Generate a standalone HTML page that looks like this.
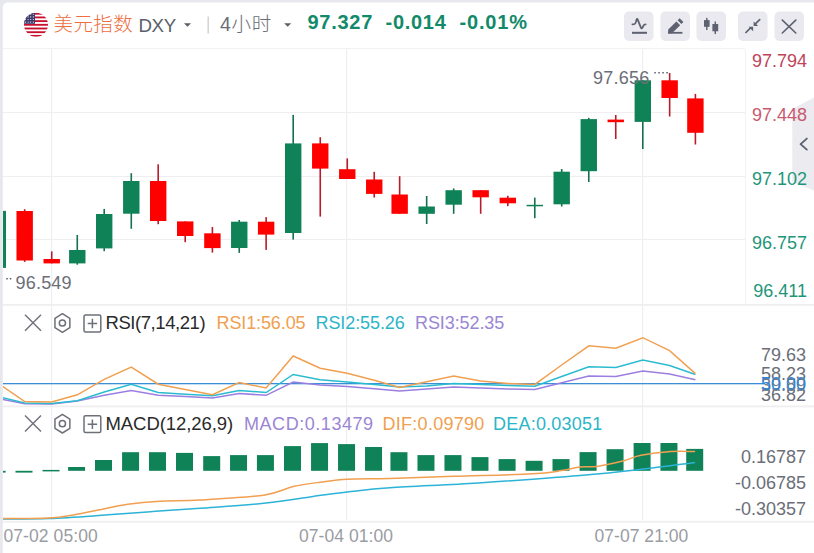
<!DOCTYPE html>
<html><head><meta charset="utf-8"><title>DXY</title>
<style>
html,body{margin:0;padding:0;width:814px;height:553px;overflow:hidden;background:#e7e7ee;}
svg{display:block}
text{font-family:'Liberation Sans','Noto Sans CJK SC',sans-serif;}
</style></head><body>
<svg width="814" height="553" viewBox="0 0 814 553">
<rect x="0" y="0" width="814" height="553" fill="#e7e7ee"/>
<rect x="2.8" y="2.6" width="830" height="570" rx="5" ry="5" fill="#ffffff"/>
<rect x="3" y="48" width="742" height="1" fill="#f1f2f5"/>
<rect x="3" y="112" width="742" height="1" fill="#efeff1"/>
<rect x="3" y="176" width="742" height="1" fill="#efeff1"/>
<rect x="3" y="239" width="742" height="1" fill="#efeff1"/>
<rect x="51" y="49" width="1.2" height="471" fill="#efeff1"/>
<rect x="346" y="49" width="1.2" height="471" fill="#efeff1"/>
<rect x="642" y="49" width="1.2" height="471" fill="#efeff1"/>
<rect x="3" y="304" width="811" height="1.8" fill="#efeff1"/>
<rect x="3" y="405.5" width="811" height="1.8" fill="#efeff1"/>
<rect x="3" y="520.8" width="811" height="1.8" fill="#efeff1"/>
<rect x="745" y="49" width="1" height="255" fill="#f1f2f5"/>
<clipPath id="cc"><rect x="3" y="49" width="742" height="255"/></clipPath>
<g clip-path="url(#cc)">
<rect x="-3.00" y="205.0" width="1.6" height="73.7" fill="#15704f"/>
<rect x="-10.40" y="210.9" width="16.4" height="57.0" fill="#108258"/>
<rect x="23.88" y="209.2" width="1.6" height="52.7" fill="#b81c2a"/>
<rect x="16.48" y="211.0" width="16.4" height="49.5" fill="#ff0000"/>
<rect x="50.93" y="251.4" width="1.6" height="12.0" fill="#b81c2a"/>
<rect x="43.53" y="259.0" width="16.4" height="4.4" fill="#ff0000"/>
<rect x="76.48" y="235.0" width="1.6" height="29.7" fill="#15704f"/>
<rect x="69.08" y="250.0" width="16.4" height="13.4" fill="#108258"/>
<rect x="103.40" y="208.9" width="1.6" height="42.3" fill="#15704f"/>
<rect x="96.00" y="214.0" width="16.4" height="34.4" fill="#108258"/>
<rect x="130.48" y="173.2" width="1.6" height="55.6" fill="#15704f"/>
<rect x="123.08" y="181.0" width="16.4" height="32.7" fill="#108258"/>
<rect x="157.39" y="164.3" width="1.6" height="59.9" fill="#b81c2a"/>
<rect x="149.99" y="181.0" width="16.4" height="40.0" fill="#ff0000"/>
<rect x="184.40" y="221.4" width="1.6" height="20.8" fill="#b81c2a"/>
<rect x="177.00" y="221.4" width="16.4" height="14.6" fill="#ff0000"/>
<rect x="211.60" y="227.0" width="1.6" height="25.6" fill="#b81c2a"/>
<rect x="204.20" y="233.3" width="16.4" height="14.8" fill="#ff0000"/>
<rect x="238.45" y="220.0" width="1.6" height="32.9" fill="#15704f"/>
<rect x="231.05" y="221.7" width="16.4" height="26.3" fill="#108258"/>
<rect x="265.32" y="217.1" width="1.6" height="32.8" fill="#b81c2a"/>
<rect x="257.92" y="221.7" width="16.4" height="12.9" fill="#ff0000"/>
<rect x="292.40" y="114.9" width="1.6" height="124.7" fill="#15704f"/>
<rect x="285.00" y="143.4" width="16.4" height="89.6" fill="#108258"/>
<rect x="319.45" y="137.2" width="1.6" height="79.4" fill="#b81c2a"/>
<rect x="312.05" y="143.4" width="16.4" height="25.2" fill="#ff0000"/>
<rect x="346.45" y="158.4" width="1.6" height="20.6" fill="#b81c2a"/>
<rect x="339.05" y="169.2" width="16.4" height="9.8" fill="#ff0000"/>
<rect x="373.43" y="171.8" width="1.6" height="25.7" fill="#b81c2a"/>
<rect x="366.03" y="179.5" width="16.4" height="14.4" fill="#ff0000"/>
<rect x="398.85" y="176.2" width="1.6" height="37.6" fill="#b81c2a"/>
<rect x="391.45" y="194.5" width="16.4" height="19.3" fill="#ff0000"/>
<rect x="425.87" y="196.0" width="1.6" height="28.0" fill="#15704f"/>
<rect x="418.47" y="206.5" width="16.4" height="7.3" fill="#108258"/>
<rect x="452.87" y="188.4" width="1.6" height="25.4" fill="#15704f"/>
<rect x="445.47" y="190.2" width="16.4" height="14.5" fill="#108258"/>
<rect x="479.87" y="190.2" width="1.6" height="23.6" fill="#b81c2a"/>
<rect x="472.47" y="190.2" width="16.4" height="7.1" fill="#ff0000"/>
<rect x="507.00" y="195.8" width="1.6" height="10.3" fill="#b81c2a"/>
<rect x="499.60" y="197.7" width="16.4" height="5.6" fill="#ff0000"/>
<rect x="533.98" y="197.6" width="1.6" height="20.6" fill="#15704f"/>
<rect x="526.58" y="204.8" width="16.4" height="1.5" fill="#108258"/>
<rect x="560.90" y="169.0" width="1.6" height="37.5" fill="#15704f"/>
<rect x="553.50" y="171.7" width="16.4" height="32.6" fill="#108258"/>
<rect x="587.97" y="117.8" width="1.6" height="64.2" fill="#15704f"/>
<rect x="580.57" y="119.1" width="16.4" height="52.1" fill="#108258"/>
<rect x="614.95" y="115.0" width="1.6" height="24.0" fill="#b81c2a"/>
<rect x="607.55" y="119.6" width="16.4" height="2.6" fill="#ff0000"/>
<rect x="642.00" y="80.0" width="1.6" height="69.0" fill="#15704f"/>
<rect x="634.60" y="80.3" width="16.4" height="41.6" fill="#108258"/>
<rect x="668.85" y="73.0" width="1.6" height="43.5" fill="#b81c2a"/>
<rect x="661.45" y="80.3" width="16.4" height="17.7" fill="#ff0000"/>
<rect x="694.60" y="93.9" width="1.6" height="50.6" fill="#b81c2a"/>
<rect x="687.20" y="98.4" width="16.4" height="34.4" fill="#ff0000"/>
</g>
<text id="hi" x="593.00" y="83.9" font-size="18" fill="#6b6e78" font-weight="normal" textLength="56.26" lengthAdjust="spacing" >97.656</text>
<rect x="654.3" y="72" width="1.5" height="1.5" fill="#5a5e68"/>
<rect x="658.3" y="72" width="1.5" height="1.5" fill="#5a5e68"/>
<rect x="662.3" y="72" width="1.5" height="1.5" fill="#5a5e68"/>
<rect x="666.3" y="72" width="1.5" height="1.5" fill="#5a5e68"/>
<text id="lo" x="15.50" y="288.7" font-size="18" fill="#6b6e78" font-weight="normal" textLength="56.06" lengthAdjust="spacing" >96.549</text>
<rect x="6.3" y="278" width="1.5" height="1.5" fill="#5a5e68"/>
<rect x="9.8" y="278" width="1.5" height="1.5" fill="#5a5e68"/>
<path d="M814,97.5 L792.3,109 L792.3,182 L814,190.5 Z" fill="#ebebf0"/>
<path d="M806.8,138.6 L800.6,144.1 L806.8,149.6" fill="none" stroke="#5d6170" stroke-width="1.9" stroke-linecap="round" stroke-linejoin="round"/>
<text x="807" y="67" font-size="18" fill="#c0435a" text-anchor="end" font-weight="normal" >97.794</text>
<text x="807" y="120.5" font-size="18" fill="#c95a6e" text-anchor="end" font-weight="normal" >97.448</text>
<text x="807" y="184.5" font-size="18" fill="#1f967a" text-anchor="end" font-weight="normal" >97.102</text>
<text x="807" y="249" font-size="18" fill="#1f967a" text-anchor="end" font-weight="normal" >96.757</text>
<text x="807" y="296.7" font-size="18" fill="#1f967a" text-anchor="end" font-weight="normal" >96.411</text>
<clipPath id="cr"><rect x="3" y="305" width="742" height="101"/></clipPath>
<g clip-path="url(#cr)">
<rect x="3" y="383" width="811" height="1.3" fill="#3a8fd8"/>
<polyline points="-2.2,398.5 24.7,403.7 51.7,404.1 77.3,401.0 104.2,395.3 131.3,390.4 158.2,395.3 185.2,396.4 212.4,397.9 239.2,393.5 266.1,395.3 293.2,382.0 320.2,384.9 347.2,386.5 374.2,388.7 399.6,390.9 426.7,389.0 453.7,387.1 480.7,388.0 507.8,389.0 534.8,389.5 561.7,382.7 588.8,376.0 615.8,376.5 642.8,371.1 669.6,374.1 695.4,379.7" fill="none" stroke="#9b7fe0" stroke-width="1.5"/>
<polyline points="-2.2,396.5 24.7,403.0 51.7,403.5 77.3,400.8 104.2,392.0 131.3,384.2 158.2,392.4 185.2,394.2 212.4,395.7 239.2,390.4 266.1,392.6 293.2,374.5 320.2,379.8 347.2,381.9 374.2,384.4 399.6,386.9 426.7,386.0 453.7,383.6 480.7,384.5 507.8,385.6 534.8,386.3 561.7,376.5 588.8,366.7 615.8,367.4 642.8,360.0 669.6,365.5 695.4,374.5" fill="none" stroke="#2bbbd0" stroke-width="1.5"/>
<polyline points="-2.2,383.0 24.7,401.5 51.7,401.9 77.3,394.8 104.2,379.4 131.3,367.0 158.2,384.2 185.2,389.5 212.4,394.8 239.2,382.5 266.1,388.0 293.2,356.0 320.2,368.3 347.2,373.2 374.2,380.3 399.6,387.5 426.7,381.8 453.7,376.0 480.7,381.1 507.8,383.5 534.8,384.4 561.7,365.0 588.8,345.8 615.8,348.3 642.8,337.7 669.6,350.7 695.4,373.6" fill="none" stroke="#f0a050" stroke-width="1.5"/>
</g>
<rect x="745" y="383" width="20" height="1.3" fill="#3a8fd8"/>
<text x="806" y="361" font-size="18" fill="#6b6e78" text-anchor="end" font-weight="normal" >79.63</text>
<text x="806" y="380" font-size="18" fill="#6b6e78" text-anchor="end" font-weight="normal" >58.23</text>
<text x="806" y="400.5" font-size="18" fill="#6b6e78" text-anchor="end" font-weight="normal" >36.82</text>
<text x="806" y="391" font-size="18" fill="#7a7d86" text-anchor="end" font-weight="normal" >39.89</text>
<text x="806" y="390" font-size="18" fill="#2f86d8" text-anchor="end" font-weight="normal" >50.00</text>
<clipPath id="cm"><rect x="3" y="407" width="742" height="113"/></clipPath>
<g clip-path="url(#cm)">
<rect x="-11.40" y="470.8" width="17.0" height="1.8" fill="#108258"/>
<rect x="15.48" y="470.8" width="17.0" height="1.8" fill="#108258"/>
<rect x="42.53" y="469.9" width="17.0" height="1.5" fill="#108258"/>
<rect x="68.08" y="467.0" width="17.0" height="3.8" fill="#108258"/>
<rect x="95.00" y="460.0" width="17.0" height="10.8" fill="#108258"/>
<rect x="122.08" y="452.2" width="17.0" height="18.6" fill="#108258"/>
<rect x="148.99" y="452.2" width="17.0" height="18.6" fill="#108258"/>
<rect x="176.00" y="452.9" width="17.0" height="17.9" fill="#108258"/>
<rect x="203.20" y="456.1" width="17.0" height="14.7" fill="#108258"/>
<rect x="230.05" y="455.1" width="17.0" height="15.7" fill="#108258"/>
<rect x="256.92" y="455.1" width="17.0" height="15.7" fill="#108258"/>
<rect x="284.00" y="446.1" width="17.0" height="24.7" fill="#108258"/>
<rect x="311.05" y="443.1" width="17.0" height="27.7" fill="#108258"/>
<rect x="338.05" y="444.1" width="17.0" height="26.7" fill="#108258"/>
<rect x="365.03" y="447.0" width="17.0" height="23.8" fill="#108258"/>
<rect x="390.45" y="452.2" width="17.0" height="18.6" fill="#108258"/>
<rect x="417.47" y="455.1" width="17.0" height="15.7" fill="#108258"/>
<rect x="444.47" y="455.1" width="17.0" height="15.7" fill="#108258"/>
<rect x="471.47" y="457.1" width="17.0" height="13.7" fill="#108258"/>
<rect x="498.60" y="459.1" width="17.0" height="11.7" fill="#108258"/>
<rect x="525.58" y="460.8" width="17.0" height="10.0" fill="#108258"/>
<rect x="552.50" y="459.1" width="17.0" height="11.7" fill="#108258"/>
<rect x="579.57" y="452.1" width="17.0" height="18.7" fill="#108258"/>
<rect x="606.55" y="449.2" width="17.0" height="21.6" fill="#108258"/>
<rect x="633.60" y="443.0" width="17.0" height="27.8" fill="#108258"/>
<rect x="660.45" y="443.0" width="17.0" height="27.8" fill="#108258"/>
<rect x="686.20" y="448.9" width="17.0" height="21.9" fill="#108258"/>
<path d="M3.0,519.0 C10.7,518.9 33.1,519.1 49.0,518.5 C64.9,517.9 81.9,516.7 98.3,515.6 C114.7,514.5 130.5,513.1 147.4,511.9 C164.3,510.7 180.6,509.6 200.0,508.2 C219.4,506.8 244.9,505.3 263.7,503.3 C282.5,501.3 299.0,498.3 312.9,496.4 C326.8,494.5 334.3,493.4 347.2,492.0 C360.1,490.6 368.1,489.3 390.0,487.8 C411.9,486.3 446.6,484.9 478.3,482.9 C510.0,480.8 552.9,477.8 580.0,475.5 C607.1,473.2 621.8,471.5 641.0,469.3 C660.2,467.1 686.1,463.5 695.1,462.4" fill="none" stroke="#2bb3d8" stroke-width="1.5"/>
<path d="M3.0,518.5 C10.7,518.4 37.2,518.6 49.0,518.0 C60.8,517.4 65.5,516.2 73.7,514.9 C81.9,513.6 89.3,511.8 98.3,510.0 C107.3,508.2 117.6,505.8 127.8,504.3 C138.0,502.9 147.7,502.0 159.7,501.3 C171.7,500.6 182.7,501.1 200.0,500.1 C217.3,499.1 248.2,497.4 263.7,495.2 C279.2,492.9 283.8,488.8 293.2,486.6 C302.6,484.4 311.2,483.4 320.2,482.2 C329.2,481.0 335.6,479.8 347.2,479.2 C358.8,478.6 372.2,479.0 390.0,478.5 C407.8,478.0 430.0,477.1 453.7,476.3 C477.4,475.5 514.3,474.8 532.3,473.8 C550.3,472.9 553.8,471.7 561.8,470.6 C569.8,469.5 574.1,467.7 580.0,467.0 C585.9,466.3 589.6,467.4 596.9,466.4 C604.2,465.3 616.5,462.5 623.9,460.7 C631.2,458.9 633.2,456.8 641.0,455.3 C648.8,453.8 661.6,452.2 670.6,451.6 C679.6,451.0 691.0,451.6 695.1,451.6" fill="none" stroke="#f0a050" stroke-width="1.5"/>
</g>
<text x="806" y="463.3" font-size="18" fill="#6b6e78" text-anchor="end" font-weight="normal" >0.16787</text>
<text x="806" y="489.1" font-size="18" fill="#6b6e78" text-anchor="end" font-weight="normal" >-0.06785</text>
<text x="806" y="515.3" font-size="18" fill="#6b6e78" text-anchor="end" font-weight="normal" >-0.30357</text>
<text id="x1" x="3.50" y="541.8" font-size="17.5" fill="#9a9ca3" font-weight="normal" textLength="94.22" lengthAdjust="spacing" >07-02 05:00</text>
<text id="x2" x="299.00" y="541.8" font-size="17.5" fill="#9a9ca3" font-weight="normal" textLength="94.02" lengthAdjust="spacing" >07-04 01:00</text>
<text id="x3" x="594.50" y="541.8" font-size="17.5" fill="#9a9ca3" font-weight="normal" textLength="93.82" lengthAdjust="spacing" >07-07 21:00</text>
<path d="M25,314.8 L41,330.8 M41,314.8 L25,330.8" stroke="#6e7079" stroke-width="1.4" fill="none"/>
<polygon points="62.40,313.70 69.85,318.35 69.85,327.65 62.40,332.30 54.95,327.65 54.95,318.35" stroke="#6e7079" stroke-width="1.5" fill="none" stroke-linejoin="round"/>
<circle cx="62.4" cy="323.0" r="3.1" stroke="#6e7079" stroke-width="1.5" fill="none"/>
<rect x="84" y="315.1" width="16.8" height="16.8" rx="1.5" stroke="#6e7079" stroke-width="1.5" fill="none"/>
<path d="M92.4,318.8 L92.4,328.2 M87.7,323.5 L97.1,323.5" stroke="#6e7079" stroke-width="1.5" fill="none"/>
<path d="M25,415.5 L41,431.5 M41,415.5 L25,431.5" stroke="#6e7079" stroke-width="1.4" fill="none"/>
<polygon points="62.40,414.40 69.85,419.05 69.85,428.35 62.40,433.00 54.95,428.35 54.95,419.05" stroke="#6e7079" stroke-width="1.5" fill="none" stroke-linejoin="round"/>
<circle cx="62.4" cy="423.7" r="3.1" stroke="#6e7079" stroke-width="1.5" fill="none"/>
<rect x="84" y="415.8" width="16.8" height="16.8" rx="1.5" stroke="#6e7079" stroke-width="1.5" fill="none"/>
<path d="M92.4,419.5 L92.4,428.9 M87.7,424.2 L97.1,424.2" stroke="#6e7079" stroke-width="1.5" fill="none"/>
<text id="rsi" x="105.50" y="328.6" font-size="18.5" fill="#2a2a2a" font-weight="normal" textLength="100.09" lengthAdjust="spacing" >RSI(7,14,21)</text>
<text id="rsi1" x="216.50" y="328.6" font-size="18" fill="#f0a050" font-weight="normal" textLength="89.06" lengthAdjust="spacing" >RSI1:56.05</text>
<text id="rsi2" x="315.50" y="328.6" font-size="18" fill="#2bb5c8" font-weight="normal" textLength="89.26" lengthAdjust="spacing" >RSI2:55.26</text>
<text id="rsi3" x="415.00" y="328.6" font-size="18" fill="#9a86d4" font-weight="normal" textLength="89.26" lengthAdjust="spacing" >RSI3:52.35</text>
<text id="macd" x="105.50" y="430.2" font-size="18.5" fill="#2a2a2a" font-weight="normal" textLength="127.72" lengthAdjust="spacing" >MACD(12,26,9)</text>
<text id="macd1" x="244.00" y="430.2" font-size="18" fill="#9a86d4" font-weight="normal" textLength="129.08" lengthAdjust="spacing" >MACD:0.13479</text>
<text id="macd2" x="382.50" y="430.2" font-size="18" fill="#f0a050" font-weight="normal" textLength="101.86" lengthAdjust="spacing" >DIF:0.09790</text>
<text id="macd3" x="493.00" y="430.2" font-size="18" fill="#2bb5c8" font-weight="normal" textLength="109.28" lengthAdjust="spacing" >DEA:0.03051</text>
<clipPath id="fl"><circle cx="36" cy="24.8" r="12"/></clipPath>
<g clip-path="url(#fl)">
<rect x="24" y="12.8" width="24" height="24" fill="#ffffff"/>
<rect x="24" y="12.80" width="24" height="1.85" fill="#c8102e"/>
<rect x="24" y="16.49" width="24" height="1.85" fill="#c8102e"/>
<rect x="24" y="20.18" width="24" height="1.85" fill="#c8102e"/>
<rect x="24" y="23.88" width="24" height="1.85" fill="#c8102e"/>
<rect x="24" y="27.57" width="24" height="1.85" fill="#c8102e"/>
<rect x="24" y="31.26" width="24" height="1.85" fill="#c8102e"/>
<rect x="24" y="34.95" width="24" height="1.85" fill="#c8102e"/>
<rect x="24" y="12.8" width="11" height="11" fill="#3c3b6e"/>
<circle cx="25.5" cy="14.3" r="0.55" fill="#fff"/>
<circle cx="28.1" cy="14.3" r="0.55" fill="#fff"/>
<circle cx="30.7" cy="14.3" r="0.55" fill="#fff"/>
<circle cx="33.3" cy="14.3" r="0.55" fill="#fff"/>
<circle cx="25.5" cy="16.9" r="0.55" fill="#fff"/>
<circle cx="28.1" cy="16.9" r="0.55" fill="#fff"/>
<circle cx="30.7" cy="16.9" r="0.55" fill="#fff"/>
<circle cx="33.3" cy="16.9" r="0.55" fill="#fff"/>
<circle cx="25.5" cy="19.5" r="0.55" fill="#fff"/>
<circle cx="28.1" cy="19.5" r="0.55" fill="#fff"/>
<circle cx="30.7" cy="19.5" r="0.55" fill="#fff"/>
<circle cx="33.3" cy="19.5" r="0.55" fill="#fff"/>
<circle cx="25.5" cy="22.1" r="0.55" fill="#fff"/>
<circle cx="28.1" cy="22.1" r="0.55" fill="#fff"/>
<circle cx="30.7" cy="22.1" r="0.55" fill="#fff"/>
<circle cx="33.3" cy="22.1" r="0.55" fill="#fff"/>
</g>
<text id="h1" x="53.50" y="30.5" font-size="19.5" fill="#ec6f3f" font-weight="300" textLength="79.22" lengthAdjust="spacing" >美元指数</text>
<text id="h2" x="138.50" y="31.8" font-size="18.7" fill="#5a5e68" font-weight="normal" textLength="37.64" lengthAdjust="spacing" >DXY</text>
<path d="M184,23.3 L191,23.3 L187.5,26.8 Z" fill="#5a5e68"/>
<rect x="207.5" y="16.5" width="1.4" height="17" fill="#cfd0d6"/>
<text id="h3" x="220.00" y="30.8" font-size="19.5" fill="#6a6d76" font-weight="300" textLength="51.26" lengthAdjust="spacing" >4小时</text>
<path d="M284.2,23.3 L291.2,23.3 L287.7,26.8 Z" fill="#5a5e68"/>
<text id="p1" x="307.50" y="29.3" font-size="20" fill="#128a6a" font-weight="bold" textLength="64.77" lengthAdjust="spacing" >97.327</text>
<text id="p2" x="385.50" y="29.3" font-size="20" fill="#128a6a" font-weight="bold" textLength="60.32" lengthAdjust="spacing" >-0.014</text>
<text id="p3" x="459.50" y="29.3" font-size="20" fill="#128a6a" font-weight="bold" textLength="67.57" lengthAdjust="spacing" >-0.01%</text>
<rect x="624" y="11.5" width="29.5" height="29.5" rx="5" fill="#e9e9ef"/>
<rect x="660.5" y="11.5" width="29.5" height="29.5" rx="5" fill="#e9e9ef"/>
<rect x="696.5" y="11.5" width="29.5" height="29.5" rx="5" fill="#e9e9ef"/>
<rect x="738" y="11.5" width="29.5" height="29.5" rx="5" fill="#e9e9ef"/>
<rect x="774.5" y="11.5" width="29.5" height="29.5" rx="5" fill="#e9e9ef"/>
<path d="M632.4,24.3 L634.3,24.2 Q635.2,24.1 635.9,22 L636.6,19.6 Q637.1,18.2 637.7,19.6 L640.9,27.6 Q641.6,29.2 642.5,27.6 L643.6,25.4 Q644.2,24.3 645.6,24.3" stroke="#5d6170" stroke-width="1.8" fill="none" stroke-linejoin="round" stroke-linecap="round"/>
<rect x="632" y="31.8" width="15" height="2" fill="#5d6170"/>
<path d="M668,33.3 L668.2,29.6 L676.4,21.4 L680.2,25.2 L672,33.3 Z" fill="#5d6170"/>
<path d="M677.6,20.2 L679.6,18.2 L683.4,22 L681.4,24 Z" fill="#5d6170"/>
<rect x="668" y="31.9" width="14.4" height="1.8" fill="#5d6170"/>
<rect x="706.1" y="17.9" width="1.4" height="12.1" fill="#5d6170"/>
<rect x="704" y="20.1" width="5.6" height="6.7" fill="#5d6170"/>
<rect x="714.6" y="21.5" width="1.4" height="12.6" fill="#5d6170"/>
<rect x="712.4" y="24" width="5.8" height="7.3" fill="#5d6170"/>
<path d="M745.9,32.5 L750.6,27.8 M759.7,19.6 L755.6,23.7" stroke="#5d6170" stroke-width="1.7" fill="none" stroke-linecap="round"/>
<path d="M753.1,26.7 L748.6,26.7 L753.1,31.2 Z" fill="#5d6170"/>
<path d="M753.6,25.9 L758.1,25.9 L753.6,21.4 Z" fill="#5d6170"/>
<path d="M782.3,20.1 L795.8,33 M795.8,20.1 L782.3,33" stroke="#5d6170" stroke-width="1.6" fill="none" stroke-linecap="round"/>
</svg>
</body></html>
